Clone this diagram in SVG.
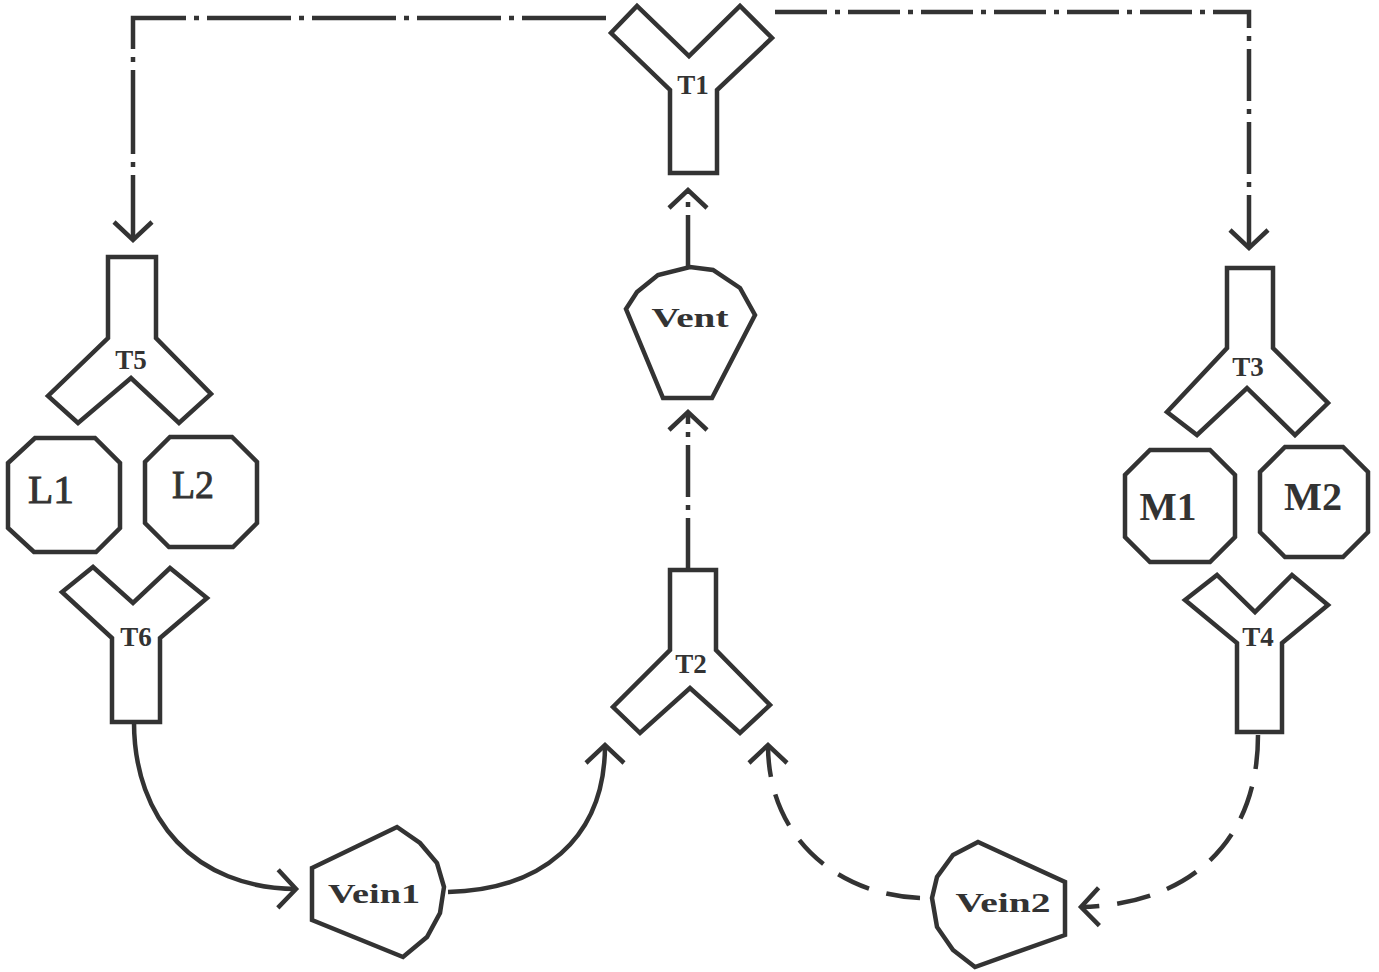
<svg xmlns="http://www.w3.org/2000/svg" width="1379" height="972" viewBox="0 0 1379 972">
  <style>
    .shape { fill: none; stroke: #333; stroke-width: 4.5; stroke-linejoin: miter; }
    .link { fill: none; stroke: #333; stroke-width: 4.5; }
    .dashdot-long { stroke-dasharray: 84 8 5 8; }
    .dashdot { stroke-dasharray: 52 8 5 8; }
    .dashed { stroke-dasharray: 34 18; }
    .lbl { font-family: "Liberation Serif", "DejaVu Serif", serif; fill: #333; text-anchor: middle; }
    .t { font-size: 27px; font-weight: bold; }
    .v { font-size: 28px; font-weight: bold; }
    .big { font-size: 40px; stroke: #333; stroke-width: 0.9; }
    .bigb { font-size: 40px; font-weight: bold; }
  </style>
  <defs>
    <marker id="open-arrow" markerUnits="userSpaceOnUse" orient="auto" refX="0" refY="0" markerWidth="40" markerHeight="50" viewBox="-24 -25 28 50" overflow="visible">
      <path d="M-18,-19 L0,0 L-18,19" fill="none" stroke="#333" stroke-width="4.5" stroke-dasharray="none"/>
    </marker>
  </defs>

  <rect width="1379" height="972" fill="#ffffff"/>

  <!-- connectors -->
  <g id="connectors">
    <path class="link dashdot-long" d="M606,18 L133,18 L133,240" marker-end="url(#open-arrow)"/>
    <path class="link dashdot" d="M775,12 L1249,12 L1249,248" marker-end="url(#open-arrow)"/>
    <path class="link dashdot" d="M688,267 L688,190" marker-end="url(#open-arrow)"/>
    <path class="link dashdot" d="M688,570 L688,412" marker-end="url(#open-arrow)"/>
    <path class="link" d="M134,722 C134,820 195,888 296,889" marker-end="url(#open-arrow)"/>
    <path class="link" d="M448,892 C540,890 605,840 605,745" marker-end="url(#open-arrow)"/>
    <path class="link dashed" d="M1258,735 C1258,850 1180,905 1081,907" marker-end="url(#open-arrow)"/>
    <path class="link dashed" d="M920,898 C840,895 768,840 768,745" marker-end="url(#open-arrow)"/>
  </g>

  <!-- junctions -->
  <g id="T1">
    <polygon class="shape" points="670,173 670,90 611,33 637,6 689,56 740,6 772,38 717,90 717,173"/>
    <text class="lbl t" x="693" y="94">T1</text>
  </g>
  <g id="T2">
    <polygon class="shape" points="670,570 716,570 716,650 770,705 740,733 690,688 640,733 613,707 670,650"/>
    <text class="lbl t" x="691" y="673">T2</text>
  </g>
  <g id="T3">
    <polygon class="shape" points="1227,268 1273,268 1273,348 1328,403 1295,435 1247,388 1197,435 1167,412 1227,348"/>
    <text class="lbl t" x="1248" y="376">T3</text>
  </g>
  <g id="T4">
    <polygon class="shape" points="1237,732 1237,643 1185,600 1217,575 1255,612 1292,575 1328,605 1282,643 1282,732"/>
    <text class="lbl t" x="1258" y="646">T4</text>
  </g>
  <g id="T5">
    <polygon class="shape" points="108,257 156,257 156,338 211,394 179,423 131,378 78,423 48,396 108,338"/>
    <text class="lbl t" x="131" y="369">T5</text>
  </g>
  <g id="T6">
    <polygon class="shape" points="112,722 112,638 62,592 93,567 133,603 170,568 207,598 160,638 160,722"/>
    <text class="lbl t" x="136" y="646">T6</text>
  </g>

  <!-- chambers -->
  <g id="Vent">
    <polygon class="shape" points="626,309 637,292 658,275 690,267 713,270 740,288 755,315 712,398 663,398"/>
    <text class="lbl v" x="690" y="327" textLength="77" lengthAdjust="spacingAndGlyphs">Vent</text>
  </g>
  <g id="Vein1">
    <polygon class="shape" points="312,868 397,827 420,843 437,863 444,887 440,913 427,937 403,957 312,920"/>
    <text class="lbl v" x="374" y="903" textLength="92" lengthAdjust="spacingAndGlyphs">Vein1</text>
  </g>
  <g id="Vein2">
    <polygon class="shape" points="978,842 953,855 937,877 932,898 937,927 953,950 975,967 1065,935 1065,882"/>
    <text class="lbl v" x="1003" y="912" textLength="95" lengthAdjust="spacingAndGlyphs">Vein2</text>
  </g>

  <!-- organs -->
  <g id="L1">
    <polygon class="shape" points="35,438 95,438 120,463 120,528 96,552 34,552 8,528 8,463"/>
    <text class="lbl big" x="51" y="503" textLength="46" lengthAdjust="spacingAndGlyphs">L1</text>
  </g>
  <g id="L2">
    <polygon class="shape" points="170,437 232,437 257,462 257,523 233,547 169,547 145,523 145,462"/>
    <text class="lbl big" x="193" y="498" textLength="42" lengthAdjust="spacingAndGlyphs">L2</text>
  </g>
  <g id="M1">
    <polygon class="shape" points="1150,450 1210,450 1235,475 1235,537 1210,562 1150,562 1125,537 1125,475"/>
    <text class="lbl bigb" x="1168" y="520" textLength="57" lengthAdjust="spacingAndGlyphs">M1</text>
  </g>
  <g id="M2">
    <polygon class="shape" points="1285,447 1343,447 1368,472 1368,532 1343,557 1285,557 1260,532 1260,472"/>
    <text class="lbl bigb" x="1313" y="510" textLength="58" lengthAdjust="spacingAndGlyphs">M2</text>
  </g>
</svg>
